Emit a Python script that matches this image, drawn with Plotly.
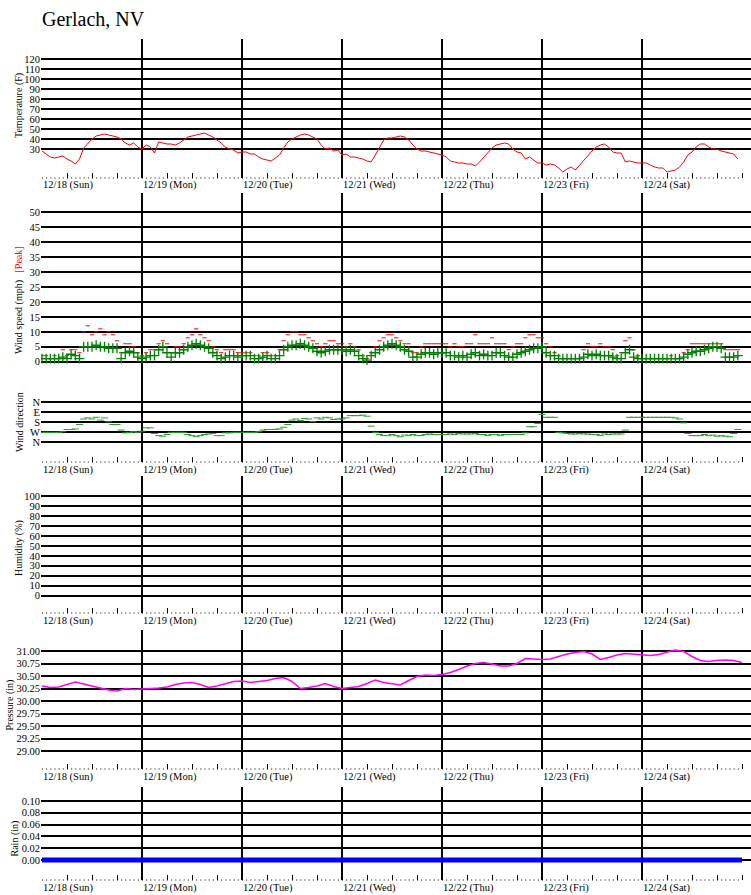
import pandas as pd
import plotly.graph_objects as go

# ---------------- data ----------------
station = "Gerlach, NV"
day_labels = ["12/18 (Sun)", "12/19 (Mon)", "12/20 (Tue)", "12/21 (Wed)",
              "12/22 (Thu)", "12/23 (Fri)", "12/24 (Sat)"]
day_ticks = pd.date_range("2011-12-18", periods=7, freq="D")
hours = pd.date_range("2011-12-18", periods=168, freq="h")
p_times = pd.date_range("2011-12-18", periods=85, freq="2h")
rain_times = pd.date_range("2011-12-18", periods=8, freq="D")

temp_f = [
    28, 25, 22, 21, 22, 23, 20, 18, 15, 20, 31, 36, 40, 43, 44, 45, 44, 43, 42, 40, 36, 34, 36, 32,
    30, 34, 32, 26, 37, 36, 35, 35, 34, 36, 39, 42, 43, 44, 45, 46, 44, 42, 39, 36, 32, 30, 29, 26,
    27, 27, 25, 25, 22, 20, 19, 18, 21, 24, 31, 37, 40, 42, 44, 45, 44, 42, 40, 34, 30, 31, 28, 29,
    24, 25, 22, 22, 21, 20, 18, 17, 24, 32, 39, 41, 41, 42, 43, 42, 39, 34, 30, 28, 28, 27, 26, 25,
    24, 22, 18, 17, 16, 16, 15, 15, 13, 17, 22, 27, 31, 34, 35, 36, 35, 30, 27, 26, 20, 22, 19, 16,
    16, 14, 15, 14, 11, 7, 10, 12, 9, 14, 18, 24, 28, 32, 34, 35, 32, 27, 26, 26, 17, 18, 17, 16,
    16, 16, 14, 12, 11, 11, 7, 8, 9, 12, 17, 24, 27, 32, 35, 35, 32, 30, 30, 28, 27, 26, 25, 20,
]

wind_mph = [
    1, 1, 1, 1, 1, 1.5, 1, 2.5, 2, 1, 5, 5, 5, 5.5, 5, 5, 4.5, 4.5, 4.5, 1, 3, 3.5, 3, 1.5,
    1, 1.5, 2, 2, 4, 5, 3, 1.5, 3, 3, 4, 5, 5.5, 6, 5.5, 5, 4.5, 3, 2, 1, 1.5, 2, 2, 1.5,
    2, 2, 2, 1, 1, 1.5, 2, 1, 1, 2, 4, 5, 5.5, 5.5, 6, 5.5, 5, 4.5, 3.5, 3, 3.5, 4, 4, 4,
    4, 3.5, 4, 3.5, 2, 1, 0.5, 2, 3, 4, 5, 5.5, 6, 5.5, 5, 4, 3.5, 1.5, 1.5, 2.5, 3, 3, 2.5, 3,
    3, 3, 2, 2, 1.5, 2, 1.5, 2.5, 3, 2, 2.5, 2, 2, 3, 3, 2, 1.5, 1.5, 2.5, 3, 3.5, 4, 4.5, 4.5,
    5, 3, 2, 2, 1, 1, 1, 1, 1, 1, 1.5, 2.5, 2, 2.5, 2, 2, 2, 1.5, 1, 1, 3, 4, 1.5, 1,
    1, 1, 1, 1, 1, 1, 1, 1, 1, 1, 1.5, 2.5, 3, 3.5, 3.5, 4, 4.5, 5, 5, 4.5, 1.5, 1.5, 1.5, 2,
]

peak_mph = [
    2, 2, 1, 2, 1, 4, 2, 4, 4, 3, 10, 12, 9, 10, 11, 9, 10, 9, 7, 3, 6, 6, 5, 3,
    2, 3, 4, 4, 6, 7, 6, 3, 5, 5, 6, 8, 9, 11, 9, 8, 7, 5, 4, 3, 4, 4, 4, 3,
    3, 3, 3, 2, 2, 3, 3, 2, 2, 4, 7, 9, 10, 10, 9, 9, 8, 7, 6, 5, 6, 7, 7, 6,
    6, 5, 6, 5, 4, 2, 1, 3, 5, 7, 8, 9, 9, 8, 7, 6, 6, 3, 3, 5, 6, 6, 6, 6,
    6, 6, 5, 6, 5, 5, 6, 6, 9, 6, 6, 6, 8, 6, 6, 6, 4, 5, 6, 6, 8, 9, 9, 8,
    8, 6, 5, 3, 2, 1, 1, 1, 1, 1, 4, 6, 5, 5, 6, 5, 5, 4, 2, 3, 7, 8, 4, 2,
    1, 1, 1, 1, 1, 1, 1, 2, 1, 1, 3, 4, 6, 6, 6, 6, 6, 6, 6, 6, 4, 4, 4, 4,
]

wind_dir_deg = [
    270, 270, 270, 270, 270, 265, 245, 245, 240, 200, 150, 140, 150, 135, 160, 140, 175, 200, 200, 250, 275, 270, 265, 270,
    260, 230, 230, 280, 300, 305, 290, 270, 270, 270, 270, 290, 300, 310, 300, 290, 285, 280, 300, 300, 275, 275, 270, 270,
    270, 270, 270, 270, 265, 250, 245, 245, 243, 240, 225, 200, 160, 150, 165, 145, 150, 175, 140, 150, 135, 140, 155, 150,
    150, 140, 120, 120, 120, 115, 125, 215, 270, 290, 300, 300, 290, 300, 310, 295, 300, 290, 300, 300, 290, 285, 290, 290,
    290, 290, 285, 290, 280, 285, 285, 285, 280, 290, 290, 300, 290, 290, 300, 290, 290, 290, 290, 290, 275, 220, 220, 190,
    110, 135, 135, 135, 270, 275, 280, 285, 285, 280, 285, 285, 290, 290, 300, 285, 290, 285, 285, 285, 250, 135, 135, 135,
    135, 135, 135, 135, 135, 135, 135, 135, 140, 150, 185, 280, 300, 300, 300, 290, 300, 295, 305, 300, 305, 310, 280, 245,
]

pressure_in = [
    30.30, 30.27, 30.28, 30.33, 30.38, 30.34, 30.30, 30.26, 30.22, 30.20, 30.25, 30.23,
    30.24, 30.24, 30.26, 30.28, 30.33, 30.36, 30.37, 30.33, 30.27, 30.30, 30.34, 30.39,
    30.40, 30.37, 30.39, 30.41, 30.45, 30.47, 30.39, 30.25, 30.27, 30.30, 30.35, 30.29,
    30.25, 30.27, 30.29, 30.35, 30.42, 30.37, 30.35, 30.32, 30.41, 30.49, 30.52, 30.51,
    30.53, 30.57, 30.63, 30.70, 30.75, 30.77, 30.74, 30.70, 30.70, 30.75, 30.85, 30.84,
    30.83, 30.84, 30.89, 30.94, 30.97, 30.99, 30.94, 30.83, 30.87, 30.92, 30.95, 30.94,
    30.92, 30.91, 30.93, 30.97, 31.02, 30.99, 30.89, 30.81, 30.79, 30.81, 30.82, 30.81,
    30.77,
]

rain_in = [0.00, 0.00, 0.00, 0.00, 0.00, 0.00, 0.00, 0.00]

temp_ticks = [30, 40, 50, 60, 70, 80, 90, 100, 110, 120]
wind_ticks = [0, 5, 10, 15, 20, 25, 30, 35, 40, 45, 50]
dir_ticks = [0, 90, 180, 270, 360]
dir_text = ["N", "E", "S", "W", "N"]
hum_ticks = [0, 10, 20, 30, 40, 50, 60, 70, 80, 90, 100]
pres_ticks = [29.00, 29.25, 29.50, 29.75, 30.00, 30.25, 30.50, 30.75, 31.00]
rain_ticks = [0.00, 0.02, 0.04, 0.06, 0.08, 0.10]

# ---------------- layout helpers ----------------
W, H = 751, 895
FONT = "Liberation Serif"
start = pd.Timestamp("2011-12-18")
X0_PX = 42.0          # pixel of 12/18 00:00
PX_PER_DAY = 100.0
DOM_LEFT = 41.0


def px_to_time(px):
    return start + pd.Timedelta(days=(px - X0_PX) / PX_PER_DAY)


x_range = [px_to_time(DOM_LEFT), px_to_time(W)]


def ydom(top, bottom):
    return [1 - bottom / H, 1 - top / H]


def yrange(top, bottom, pa, va, pb, vb):
    k = (vb - va) / (pb - pa)
    return [va + (bottom - pa) * k, va + (top - pa) * k]


# panel geometry (pixel top, bottom, two calibration points)
panels = {
    1: dict(top=39, bottom=178, cal=(149, 30, 59, 120), ticks=temp_ticks, fmt=None),
    2: dict(top=193, bottom=375, cal=(361.7, 0, 212.3, 50), ticks=wind_ticks, fmt=None),
    3: dict(top=375, bottom=462, cal=(402.3, 0, 442.3, 360), ticks=dir_ticks, fmt=None),
    4: dict(top=476, bottom=613, cal=(595.7, 0, 496, 100), ticks=hum_ticks, fmt=None),
    5: dict(top=630, bottom=769, cal=(651, 31.0, 751, 29.0), ticks=pres_ticks, fmt=".2f"),
    6: dict(top=787, bottom=880, cal=(860, 0.0, 801, 0.10), ticks=rain_ticks, fmt=".2f"),
}

fig = go.Figure()

fig.add_trace(go.Scatter(x=hours, y=temp_f, mode="lines",
                         line=dict(color="red", width=1), xaxis="x", yaxis="y"))
fig.add_trace(go.Scatter(x=hours, y=peak_mph, mode="markers", xaxis="x2", yaxis="y2",
                         marker=dict(symbol="line-ew", size=3, line=dict(color="red", width=1))))
fig.add_trace(go.Scatter(x=hours, y=wind_mph, mode="markers", xaxis="x2", yaxis="y2",
                         marker=dict(symbol="cross-thin", size=7,
                                     line=dict(color="rgb(0,128,0)", width=1.3))))
fig.add_trace(go.Scatter(x=hours, y=wind_dir_deg, mode="markers", xaxis="x3", yaxis="y3",
                         marker=dict(symbol="line-ew", size=5,
                                     line=dict(color="rgb(40,160,40)", width=1))))
fig.add_trace(go.Scatter(x=[], y=[], mode="lines", xaxis="x4", yaxis="y4"))
fig.add_trace(go.Scatter(x=p_times, y=pressure_in, mode="lines", xaxis="x5", yaxis="y5",
                         line=dict(color="magenta", width=1.5)))
fig.add_trace(go.Scatter(x=rain_times, y=rain_in, mode="lines", xaxis="x6", yaxis="y6",
                         line=dict(color="blue", width=5)))

layout = dict(
    width=W, height=H, margin=dict(l=0, r=0, t=0, b=0),
    paper_bgcolor="white", plot_bgcolor="white", showlegend=False,
    font=dict(family=FONT, size=10, color="black"),
)

shapes = []
annotations = []
for n, p in panels.items():
    sfx = "" if n == 1 else str(n)
    pa, va, pb, vb = p["cal"]
    rng = yrange(p["top"], p["bottom"], pa, va, pb, vb)
    ya = dict(domain=ydom(p["top"], p["bottom"]), range=rng, anchor="x" + sfx,
              tickmode="array", tickvals=p["ticks"], showgrid=True,
              gridcolor="black", gridwidth=2, zeroline=False, showline=False,
              ticks="", tickfont=dict(family=FONT, size=10.5, color="black"))
    if p["fmt"]:
        ya["tickformat"] = p["fmt"]
    if n == 3:
        ya["ticktext"] = dir_text
    has_ticks = n != 2
    xa = dict(domain=[DOM_LEFT / W, 1], range=x_range, anchor="y" + sfx,
              type="date", tickmode="array", tickvals=day_ticks, showticklabels=False,
              showgrid=True, gridcolor="black", gridwidth=2, zeroline=False, showline=False,
              ticks="inside" if has_ticks else "", ticklen=5, tickcolor="black", tickwidth=1)
    if has_ticks:
        xa["minor"] = dict(tickmode="linear", tick0="2011-12-18", dtick=6 * 3600 * 1000,
                           ticks="inside", ticklen=5, tickcolor="black", tickwidth=1,
                           showgrid=False)
    if n != 1:
        xa["matches"] = "x"
    layout["yaxis" + sfx] = ya
    layout["xaxis" + sfx] = xa

    if has_ticks:
        # hourly dotted baseline
        shapes.append(dict(type="line", xref="x" + sfx, yref="y" + sfx + " domain",
                           x0=start, x1=start + pd.Timedelta(days=7), y0=0, y1=0,
                           line=dict(color="black", width=1, dash="1px,3.1667px")))
        yc = 1 - (p["bottom"] + 7.5) / H
        for d, lab in zip(day_ticks, day_labels):
            annotations.append(dict(text=lab, x=d, xref="x" + sfx, y=yc, yref="paper",
                                    xanchor="left", yanchor="middle", showarrow=False,
                                    xshift=-1, font=dict(family=FONT, size=10.5, color="black")))

# axis titles
titles = [
    ("Temperature (F)", 19, 106),
    ("Wind speed (mph)&nbsp;&nbsp;&nbsp;<span style='color:red'>[Peak]</span>", 19, 300),
    ("Wind direction", 19, 422),
    ("Humidity (%)", 19, 548),
    ("Pressure (in)", 9.5, 705),
    ("Rain (in)", 14.5, 838),
]
for txt, xp, yp in titles:
    annotations.append(dict(text=txt, x=xp / W, y=1 - yp / H, xref="paper", yref="paper",
                            xanchor="center", yanchor="middle", textangle=-90, showarrow=False,
                            font=dict(family=FONT, size=10, color="black")))

annotations.append(dict(text=station, x=42 / W, y=1 - 19 / H, xref="paper", yref="paper",
                        xanchor="left", yanchor="middle", showarrow=False, xshift=-2,
                        font=dict(family=FONT, size=20, color="black")))

layout["shapes"] = shapes
layout["annotations"] = annotations
fig.update_layout(**layout)

fig.write_html("out.html", config={"displayModeBar": False},
               post_script="document.body.style.margin='0';")
